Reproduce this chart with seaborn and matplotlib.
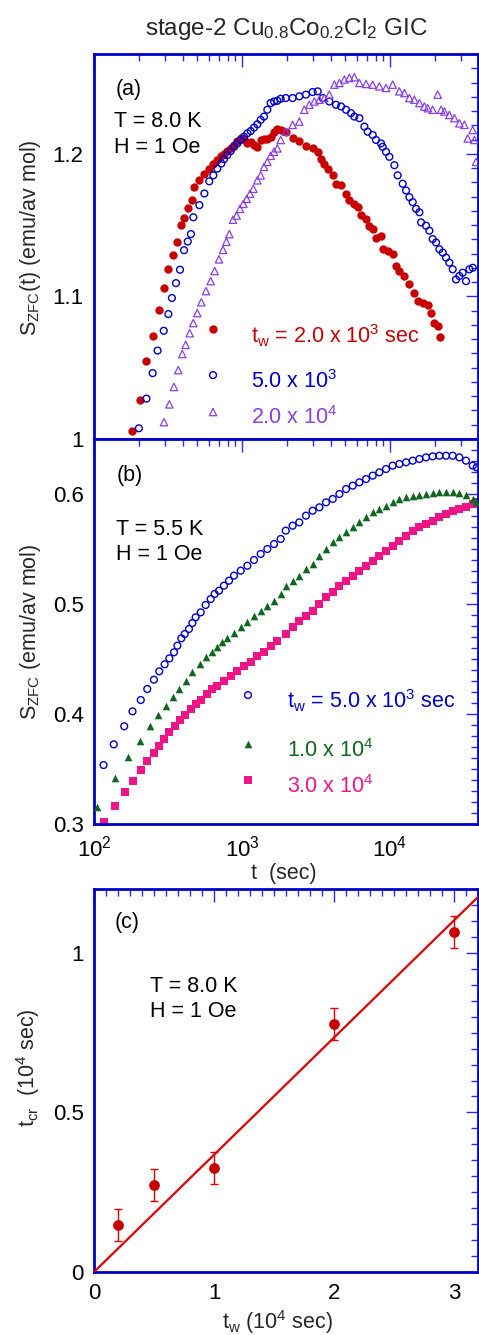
import matplotlib
matplotlib.use("Agg")
import matplotlib.pyplot as plt
import numpy as np
import pandas as pd
import seaborn as sns
from matplotlib.ticker import LogLocator, MultipleLocator, NullFormatter

# ---------------- data ----------------
# (a) T = 8.0 K, H = 1 Oe : relaxation rate S_ZFC(t) for three wait times
t_a_2e3 = [182, 204, 226, 249, 273, 296, 318, 342, 364, 389,
           406, 434, 457, 474, 515, 553, 598, 640, 681, 718,
           755, 796, 838, 883, 930, 980, 1032, 1087, 1145, 1205,
           1270, 1337, 1408, 1483, 1562, 1645, 1733, 1825, 1975,
           2198, 2438, 2704, 2999, 3243, 3417, 3597, 3793, 4102, 4317,
           4667, 5047, 5309, 5741, 6053, 6368, 6887, 7244, 7638, 8035,
           8690, 8913, 9638, 10420, 10980, 11560, 12500, 13520, 14600, 15380,
           16630, 17980, 18930, 19950, 21000, 21780]
s_a_2e3 = [1.0059, 1.0271, 1.0549, 1.0723, 1.0905, 1.1062, 1.1192, 1.1293, 1.1383, 1.1501,
           1.1552, 1.1618, 1.1673, 1.1767, 1.1814, 1.1861, 1.1896, 1.1932, 1.1960, 1.1986,
           1.2002, 1.2019, 1.2038, 1.2061, 1.2089, 1.2113, 1.2104, 1.2073, 1.2080, 1.2061,
           1.2049, 1.2097, 1.2104, 1.2104, 1.2120, 1.2155, 1.2174, 1.2167, 1.2150,
           1.2113, 1.2089, 1.2057, 1.2038, 1.2014, 1.1967, 1.1932, 1.1896, 1.1854, 1.1790,
           1.1783, 1.1720, 1.1673, 1.1649, 1.1625, 1.1571, 1.1543, 1.1496, 1.1472, 1.1413,
           1.1425, 1.1331, 1.1319, 1.1296, 1.1213, 1.1178, 1.1143, 1.1084, 1.1025, 1.0966,
           1.0954, 1.0942, 1.0883, 1.0813, 1.0789, 1.0718]

t_a_5e3 = [201, 226, 249, 269, 296, 318, 336, 358, 381, 406,
           430, 452, 469, 515, 557, 601, 640, 681, 725, 755,
           796, 838, 883, 930, 980, 1032, 1087, 1145, 1205, 1270,
           1337, 1408, 1483, 1562, 1645, 1733, 1825, 1975, 2198, 2438,
           2704, 2999, 3243, 3508, 3890, 4317, 4667, 5047, 5448, 5741,
           6208, 6713, 7060, 7638, 8035, 8690, 8913, 9397, 9897, 10700,
           11260, 12180, 12830, 13520, 14230, 14990, 15790, 16200, 17510, 18440,
           19420, 20460, 21550, 22700, 23900, 25170, 26510, 27920, 29410, 30970,
           32620, 34360, 36190]
s_a_5e3 = [1.0075, 1.0283, 1.0462, 1.0620, 1.0759, 1.0876, 1.0989, 1.1093, 1.1187, 1.1324,
           1.1385, 1.1437, 1.1555, 1.1640, 1.1722, 1.1807, 1.1849, 1.1896, 1.1932, 1.1962,
           1.1991, 1.2019, 1.2049, 1.2073, 1.2097, 1.2120, 1.2144, 1.2160, 1.2184, 1.2207,
           1.2238, 1.2261, 1.2309, 1.2356, 1.2367, 1.2372, 1.2386, 1.2391, 1.2391, 1.2403,
           1.2415, 1.2433, 1.2438, 1.2391, 1.2367, 1.2344, 1.2332, 1.2309, 1.2285, 1.2261,
           1.2250, 1.2191, 1.2155, 1.2132, 1.2097, 1.2073, 1.2049, 1.2014, 1.1979, 1.1920,
           1.1849, 1.1790, 1.1743, 1.1696, 1.1661, 1.1614, 1.1590, 1.1519, 1.1496, 1.1461,
           1.1402, 1.1378, 1.1331, 1.1307, 1.1272, 1.1237, 1.1190, 1.1119, 1.1143, 1.1166,
           1.1107, 1.1190, 1.1201]

t_a_2e4 = [297, 323, 347, 371, 395, 416, 443, 469, 499, 531,
           571, 614, 653, 699, 744, 784, 821, 869, 920, 969,
           1021, 1075, 1132, 1193, 1270, 1337, 1408, 1483, 1562, 1645,
           1733, 1825, 1975, 2198, 2438, 2636, 2850, 3083, 3334, 3597,
           3890, 4207, 4550, 4918, 5309, 5741, 6208, 6887, 7638, 8472,
           9397, 10420, 11560, 12500, 13520, 14600, 15790, 17060, 17980, 19420,
           21000, 22130, 23290, 25170, 27210, 29410, 31780, 33470, 36190, 37150,
           38100]
s_a_2e4 = [1.0118, 1.0243, 1.0365, 1.0483, 1.0596, 1.0660, 1.0742, 1.0813, 1.0883, 1.0959,
           1.1037, 1.1107, 1.1178, 1.1260, 1.1326, 1.1383, 1.1437, 1.1538, 1.1567, 1.1614,
           1.1649, 1.1684, 1.1720, 1.1755, 1.1814, 1.1849, 1.1908, 1.1943, 1.1986, 1.2014,
           1.2038, 1.2097, 1.2155, 1.2203, 1.2226, 1.2309, 1.2344, 1.2367, 1.2379, 1.2391,
           1.2415, 1.2485, 1.2497, 1.2521, 1.2532, 1.2537, 1.2497, 1.2490, 1.2485, 1.2473,
           1.2462, 1.2485, 1.2438, 1.2426, 1.2391, 1.2379, 1.2356, 1.2332, 1.2320, 1.2309,
           1.2415, 1.2309, 1.2297, 1.2273, 1.2250, 1.2214, 1.2203, 1.2108, 1.2167, 1.2097,
           1.1943]

# (b) T = 5.5 K, H = 1 Oe
t_b_5e3 = [116, 136, 160, 182, 207, 229, 254, 276, 300, 323,
           347, 366, 389, 410, 438, 462, 486, 526, 568, 614,
           653, 699, 755, 817, 883, 980, 1087, 1205, 1337, 1483,
           1645, 1825, 1975, 2198, 2438, 2704, 2999, 3334, 3695, 4102,
           4550, 5047, 5597, 6208, 6887, 7638, 8472, 9397, 10420, 11560,
           12830, 14230, 15790, 17510, 19420, 21550, 23900, 26510, 29410, 32620,
           36190, 38500]
s_b_5e3 = [0.3536, 0.3724, 0.3888, 0.4024, 0.4127, 0.4227, 0.4312, 0.4388, 0.4452, 0.4506,
           0.4561, 0.4621, 0.4688, 0.4727, 0.4773, 0.4827, 0.4879, 0.4924, 0.4991, 0.5045,
           0.5091, 0.5121, 0.5167, 0.5212, 0.5258, 0.5303, 0.5348, 0.5400, 0.5455, 0.5500,
           0.5545, 0.5591, 0.5667, 0.5712, 0.5742, 0.5803, 0.5848, 0.5879, 0.5924, 0.5955,
           0.6000, 0.6045, 0.6076, 0.6106, 0.6136, 0.6167, 0.6197, 0.6227, 0.6258, 0.6273,
           0.6288, 0.6303, 0.6318, 0.6333, 0.6342, 0.6348, 0.6348, 0.6348, 0.6333, 0.6303,
           0.6258, 0.6242]

t_b_1e4 = [104, 138, 171, 205, 239, 272, 307, 340, 377, 416,
           462, 520, 568, 630, 681, 736, 796, 883, 980, 1087,
           1205, 1337, 1483, 1645, 1825, 1975, 2198, 2438, 2704, 2999,
           3334, 3695, 4102, 4550, 5047, 5597, 6208, 6887, 7638, 8472,
           9397, 10420, 11560, 12830, 14230, 15790, 17510, 19420, 21550, 23900,
           26510, 29410, 32620, 36190, 38100]
s_b_1e4 = [0.3152, 0.3415, 0.3606, 0.3758, 0.3888, 0.3991, 0.4076, 0.4152, 0.4227, 0.4303,
           0.4379, 0.4455, 0.4515, 0.4561, 0.4606, 0.4652, 0.4688, 0.4736, 0.4788, 0.4839,
           0.4894, 0.4939, 0.4985, 0.5030, 0.5091, 0.5160, 0.5212, 0.5258, 0.5318, 0.5364,
           0.5439, 0.5500, 0.5561, 0.5606, 0.5652, 0.5697, 0.5742, 0.5788, 0.5833, 0.5864,
           0.5894, 0.5924, 0.5955, 0.5970, 0.5979, 0.5991, 0.6000, 0.6009, 0.6015, 0.6015,
           0.6015, 0.6009, 0.5991, 0.5955, 0.5924]

t_b_3e4 = [117, 138, 162, 184, 207, 229, 254, 275, 297, 323,
           351, 381, 412, 450, 486, 526, 577, 630, 681, 755,
           838, 930, 1032, 1145, 1270, 1408, 1562, 1733, 1975, 2198,
           2438, 2704, 2999, 3334, 3695, 4102, 4550, 5047, 5597, 6208,
           6887, 7638, 8472, 9397, 10420, 11560, 12830, 14230, 15790, 17510,
           19420, 21550, 23900, 26510, 29410, 32620, 36190, 38500]
s_b_3e4 = [0.3015, 0.3167, 0.3288, 0.3394, 0.3494, 0.3576, 0.3645, 0.3712, 0.3773, 0.3833,
           0.3894, 0.3948, 0.3991, 0.4045, 0.4091, 0.4130, 0.4182, 0.4227, 0.4258, 0.4303,
           0.4348, 0.4394, 0.4439, 0.4476, 0.4524, 0.4567, 0.4621, 0.4667, 0.4727, 0.4788,
           0.4848, 0.4894, 0.4939, 0.5000, 0.5061, 0.5106, 0.5167, 0.5212, 0.5258, 0.5303,
           0.5348, 0.5394, 0.5439, 0.5485, 0.5530, 0.5576, 0.5621, 0.5667, 0.5697, 0.5727,
           0.5758, 0.5788, 0.5818, 0.5848, 0.5864, 0.5879, 0.5909, 0.5924]

# (c) crossover time t_cr versus wait time t_w (units of 10^4 sec)
tw_c = [0.2, 0.5, 1.0, 2.0, 3.0]
tcr_c = [0.147, 0.274, 0.325, 0.777, 1.065]
tcr_err = [0.05, 0.05, 0.05, 0.05, 0.05]
fit_tw = [0.0, 3.2]
fit_tcr = [0.0, 1.175]

# tick values / labels
t_limits = [100, 39300]
a_yticks, a_ylabels = [1.0, 1.1, 1.2], ["1", "1.1", "1.2"]
b_yticks, b_ylabels = [0.3, 0.4, 0.5, 0.6], ["0.3", "0.4", "0.5", "0.6"]
c_xticks, c_xlabels = [0, 1, 2, 3], ["0", "1", "2", "3"]
c_yticks, c_ylabels = [0, 0.5, 1.0], ["0", "0.5", "1"]

# ---------------- style ----------------
sns.set_style("white")
plt.rcParams["font.family"] = ["Liberation Sans", "DejaVu Sans"]
plt.rcParams["mathtext.fontset"] = "custom"
plt.rcParams["mathtext.rm"] = "Liberation Sans"
plt.rcParams["mathtext.it"] = "Liberation Sans:italic"
plt.rcParams["mathtext.bf"] = "Liberation Sans:bold"
plt.rcParams["mathtext.default"] = "regular"

FS = 15.5      # labels and annotations
FS_TICK = 16   # numeric tick labels
SPINE = "#0000cc"
TICK = "#2b2be6"
RED = "#c80000"
BLUE = "#0000cc"
PURPLE = "#8a3ee6"
GREEN = "#0f661e"
PINK = "#ee1488"
LINE_RED = "#e00000"

W, H = 479, 1335
fig = plt.figure(figsize=(W / 100, H / 100), dpi=100)


def box(x0, y0, x1, y1):
    return [x0 / W, 1 - y1 / H, (x1 - x0) / W, (y1 - y0) / H]


ax_a = fig.add_axes(box(94, 54, 478, 439))
ax_b = fig.add_axes(box(94, 439, 478, 824))
ax_c = fig.add_axes(box(94, 889, 478, 1272))


def style(ax):
    for sp in ax.spines.values():
        sp.set_color(SPINE)
        sp.set_linewidth(2)
    ax.tick_params(which="both", direction="in", top=True, right=True,
                   color=TICK, width=1, labelcolor="black", labelsize=FS_TICK)
    ax.tick_params(which="major", length=9)
    ax.tick_params(which="minor", length=5)
    ax.tick_params(axis="y", pad=7.5)
    ax.grid(False)


def scatter(ax, x, y, marker, color, s, filled=True, lw=0.9, z=2, clip=True):
    df = pd.DataFrame({"x": x, "y": y})
    n0 = len(ax.collections)
    sns.scatterplot(data=df, x="x", y="y", ax=ax, marker=marker, s=s,
                    color=color, linewidth=0 if filled else lw,
                    edgecolor=color, zorder=z, legend=False)
    coll = ax.collections[n0]
    if not filled:
        coll.set_facecolor("none")
        coll.set_edgecolor(color)
        coll.set_linewidth(lw)
    coll.set_clip_on(clip)
    return coll


def key(ax, x, y, marker, color, s, filled=True, lw=0.9):
    if filled:
        ax.scatter([x], [y], marker=marker, s=s, color=color, linewidths=0,
                   transform=ax.transAxes, clip_on=False, zorder=3)
    else:
        ax.scatter([x], [y], marker=marker, s=s, facecolors="none",
                   edgecolors=color, linewidths=lw,
                   transform=ax.transAxes, clip_on=False, zorder=3)


def note(ax, x, y, txt, color="black"):
    ax.text(x, y, txt, color=color, transform=ax.transAxes,
            fontsize=FS, va="baseline")


# ---------------- panel (a) ----------------
scatter(ax_a, t_a_2e3, s_a_2e3, "o", RED, 36, filled=True, z=2)
scatter(ax_a, t_a_5e3, s_a_5e3, "o", BLUE, 24, filled=False, lw=1.0, z=3)
scatter(ax_a, t_a_2e4, s_a_2e4, "^", PURPLE, 28, filled=False, lw=0.9, z=4)
ax_a.set_xscale("log")
ax_a.set_xlim(*t_limits)
ax_a.set_ylim(1.0, 1.27)
ax_a.set_yticks(a_yticks, labels=a_ylabels)
ax_a.yaxis.set_minor_locator(MultipleLocator(0.01))
ax_a.xaxis.set_major_locator(LogLocator(base=10))
ax_a.xaxis.set_minor_locator(LogLocator(base=10, subs=np.arange(2, 10)))
ax_a.xaxis.set_major_formatter(NullFormatter())
ax_a.xaxis.set_minor_formatter(NullFormatter())
ax_a.set_xlabel("")
ax_a.set_ylabel(r"S$_{ZFC}$(t) (emu/av mol)", fontsize=FS)
style(ax_a)
ax_a.yaxis.set_label_coords(-0.133, 0.522)

note(ax_a, 0.057, 0.894, "(a)")
note(ax_a, 0.052, 0.810, "T = 8.0 K")
note(ax_a, 0.052, 0.743, "H = 1 Oe")

key(ax_a, 0.310, 0.286, "o", RED, 36, filled=True)
key(ax_a, 0.310, 0.166, "o", BLUE, 24, filled=False, lw=1.0)
key(ax_a, 0.310, 0.070, "^", PURPLE, 28, filled=False)
note(ax_a, 0.409, 0.249, r"t$_w$ = 2.0 x 10$^3$ sec", RED)
note(ax_a, 0.409, 0.132, r"5.0 x 10$^3$", BLUE)
note(ax_a, 0.409, 0.039, r"2.0 x 10$^4$", PURPLE)

# ---------------- panel (b) ----------------
scatter(ax_b, t_b_3e4, s_b_3e4, "s", PINK, 28, filled=True, z=2, clip=False)
scatter(ax_b, t_b_1e4, s_b_1e4, "^", GREEN, 30, filled=True, z=3, clip=False)
scatter(ax_b, t_b_5e3, s_b_5e3, "o", BLUE, 24, filled=False, lw=1.0, z=4, clip=False)
ax_b.set_xscale("log")
ax_b.set_xlim(*t_limits)
ax_b.set_ylim(0.3, 0.65)
ax_b.set_yticks(b_yticks, labels=b_ylabels)
ax_b.yaxis.set_minor_locator(MultipleLocator(0.01))
ax_b.xaxis.set_major_locator(LogLocator(base=10))
ax_b.xaxis.set_minor_locator(LogLocator(base=10, subs=np.arange(2, 10)))
ax_b.xaxis.set_minor_formatter(NullFormatter())
ax_b.set_xlabel("t  (sec)", fontsize=FS)
ax_b.set_ylabel(r"S$_{ZFC}$ (emu/av mol)", fontsize=FS)
style(ax_b)
ax_b.tick_params(axis="x", pad=8)
ax_b.yaxis.set_label_coords(-0.133, 0.5)
ax_b.xaxis.set_label_coords(0.495, -0.100)

note(ax_b, 0.060, 0.891, "(b)")
note(ax_b, 0.057, 0.751, "T = 5.5 K")
note(ax_b, 0.057, 0.686, "H = 1 Oe")

key(ax_b, 0.401, 0.335, "o", BLUE, 24, filled=False, lw=1.0)
key(ax_b, 0.401, 0.208, "^", GREEN, 30, filled=True)
key(ax_b, 0.401, 0.114, "s", PINK, 28, filled=True)
note(ax_b, 0.503, 0.301, r"t$_w$ = 5.0 x 10$^3$ sec", BLUE)
note(ax_b, 0.503, 0.174, r"1.0 x 10$^4$", GREEN)
note(ax_b, 0.503, 0.081, r"3.0 x 10$^4$", PINK)

# ---------------- panel (c) ----------------
ax_c.errorbar(tw_c, tcr_c, yerr=tcr_err, fmt="none", ecolor=LINE_RED,
              elinewidth=1.0, capsize=3.2, capthick=1.0, zorder=2)
sns.lineplot(x=fit_tw, y=fit_tcr, ax=ax_c, color=LINE_RED, linewidth=1.6, zorder=3)
scatter(ax_c, tw_c, tcr_c, "o", RED, 60, filled=True, z=4)
ax_c.set_xlim(0, 3.2)
ax_c.set_ylim(0, 1.2)
ax_c.set_xticks(c_xticks, labels=c_xlabels)
ax_c.set_yticks(c_yticks, labels=c_ylabels)
ax_c.xaxis.set_minor_locator(MultipleLocator(0.1))
ax_c.yaxis.set_minor_locator(MultipleLocator(0.05))
ax_c.set_xlabel(r"t$_w$ (10$^4$ sec)", fontsize=FS)
ax_c.set_ylabel(r"t$_{cr}$  (10$^4$ sec)", fontsize=FS)
style(ax_c)
ax_c.tick_params(axis="x", pad=8)
ax_c.yaxis.set_label_coords(-0.135, 0.533)
ax_c.xaxis.set_label_coords(0.477, -0.094)

note(ax_c, 0.055, 0.898, "(c)")
note(ax_c, 0.146, 0.731, "T = 8.0 K")
note(ax_c, 0.146, 0.666, "H = 1 Oe")

# ---------------- title ----------------
fig.text(286 / W, 1 - 35 / H, r"stage-2 Cu$_{0.8}$Co$_{0.2}$Cl$_2$ GIC",
         ha="center", va="baseline", fontsize=17.5)

fig.savefig("out.png", dpi=100)
